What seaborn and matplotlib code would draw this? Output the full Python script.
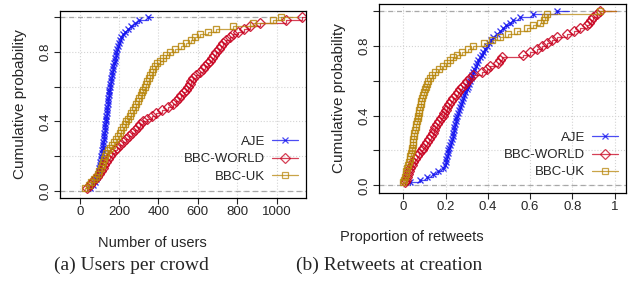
import numpy as np
import pandas as pd
import seaborn as sns
import matplotlib.pyplot as plt
from matplotlib.lines import Line2D

sns.set_style("ticks")
plt.rcParams['font.family'] = ['Liberation Sans', 'DejaVu Sans']

series = ['AJE', 'BBC-WORLD', 'BBC-UK']
colores = {'AJE': '#1010F0', 'BBC-WORLD': '#C8001E', 'BBC-UK': '#B8860B'}
marcas = {'AJE': 'x', 'BBC-WORLD': 'D', 'BBC-UK': 's'}
tam = {'AJE': 5, 'BBC-WORLD': 4.8, 'BBC-UK': 4.8}

# (a) usuarios por crowd
users_aje = [50, 68, 80, 85, 89, 93, 96, 99, 102, 104, 107, 110, 112, 114, 116, 118, 120, 122,
             124, 125, 127, 129, 130, 132, 134, 135, 137, 139, 140, 142, 144, 145, 147, 149, 151, 153,
             155, 158, 160, 162, 165, 168, 171, 174, 177, 180, 183, 186, 190, 195, 200, 206, 212, 220,
             232, 247, 263, 282, 300, 347]
users_world = [35, 50, 65, 78, 90, 100, 108, 117, 125, 134, 143, 153, 165, 177, 190, 205, 220, 237,
               250, 265, 280, 295, 308, 322, 343, 365, 390, 420, 450, 475, 490, 505, 517, 530, 540, 551,
               560, 568, 576, 593, 610, 627, 638, 650, 661, 672, 684, 695, 706, 718, 729, 745, 762, 780,
               805, 835, 864, 915, 1050, 1127]
users_uk = [25, 45, 60, 72, 83, 93, 100, 106, 112, 117, 122, 127, 136, 146, 156, 166, 176, 186,
            195, 204, 212, 220, 229, 237, 246, 254, 263, 271, 280, 288, 295, 302, 309, 316, 323, 330,
            337, 344, 352, 359, 366, 373, 384, 395, 407, 423, 440, 458, 485, 513, 542, 565, 588, 610,
            650, 695, 780, 881, 983, 1025]

# (b) proporcion de retweets
rt_aje = [0.03, 0.08, 0.11, 0.14, 0.165, 0.19, 0.195, 0.2, 0.204, 0.207, 0.21, 0.213, 0.217, 0.221,
          0.225, 0.229, 0.233, 0.237, 0.24, 0.242, 0.245, 0.247, 0.25, 0.252, 0.257, 0.262, 0.267,
          0.273, 0.278, 0.284, 0.289, 0.294, 0.3, 0.305, 0.31, 0.315, 0.32, 0.326, 0.331, 0.336,
          0.342, 0.347, 0.355, 0.363, 0.37, 0.378, 0.386, 0.394, 0.405, 0.415, 0.426, 0.442, 0.457,
          0.473, 0.488, 0.504, 0.52, 0.55, 0.615, 0.726]
rt_world = [0.01, 0.015, 0.019, 0.024, 0.028, 0.032, 0.04, 0.047, 0.055, 0.065, 0.076, 0.087, 0.095,
            0.103, 0.11, 0.12, 0.131, 0.142, 0.147, 0.152, 0.158, 0.168, 0.178, 0.189, 0.194, 0.2,
            0.205, 0.216, 0.226, 0.237, 0.247, 0.258, 0.268, 0.279, 0.29, 0.3, 0.315, 0.331, 0.37,
            0.394, 0.41, 0.45, 0.458, 0.465, 0.567, 0.6, 0.63, 0.655, 0.678, 0.705, 0.726, 0.773,
            0.805, 0.836, 0.868, 0.88, 0.89, 0.899, 0.915, 0.93]
rt_uk = [0.0, 0.004, 0.008, 0.012, 0.015, 0.019, 0.023, 0.027, 0.03, 0.034, 0.037, 0.04, 0.042, 0.044,
         0.046, 0.048, 0.05, 0.052, 0.055, 0.058, 0.062, 0.065, 0.068, 0.071, 0.074, 0.076, 0.079,
         0.082, 0.084, 0.087, 0.091, 0.096, 0.101, 0.107, 0.112, 0.118, 0.127, 0.138, 0.15, 0.167,
         0.186, 0.205, 0.22, 0.236, 0.252, 0.278, 0.305, 0.331, 0.38, 0.418, 0.457, 0.497, 0.536,
         0.584, 0.615, 0.647, 0.667, 0.672, 0.678, 0.93]

datos_a = {'AJE': users_aje, 'BBC-WORLD': users_world, 'BBC-UK': users_uk}
datos_b = {'AJE': rt_aje, 'BBC-WORLD': rt_world, 'BBC-UK': rt_uk}

fig = plt.figure(figsize=(6.31, 2.88), dpi=100)
ax1 = fig.add_axes([0.0951, 0.3125, 0.3899, 0.6493])
ax2 = fig.add_axes([0.6006, 0.3299, 0.3914, 0.65625])


def panel(ax, datos, xlim, ylim, xticks, xticklabels, ley_y):
    ax.set_xlim(xlim)
    ax.set_ylim(ylim)
    ax.set_xticks(xticks)
    ax.set_xticklabels(xticklabels)
    ax.set_yticks([0, 0.2, 0.4, 0.6, 0.8, 1.0])
    ax.set_yticklabels(['0.0', '', '0.4', '', '0.8', ''], rotation=90, va='center')
    ax.grid(True, linestyle=':', color='#d4d4d4', lw=0.8)
    ax.axhline(0, ls='--', color='#a8a8a8', lw=0.9, dashes=(4, 3))
    ax.axhline(1, ls='--', color='#a8a8a8', lw=0.9, dashes=(4, 3))
    for s in series:
        vals = np.sort(np.array(datos[s]))
        n = len(vals)
        c = colores[s]
        sns.ecdfplot(x=vals, ax=ax, color=c, lw=0.9, alpha=0.75)
        # el escalon final se prolonga como en R
        dr = max(0.08 * (vals[-1] - vals[0]), np.median(np.diff(vals)))
        ax.plot([vals[-1], vals[-1] + dr], [1, 1], color=c, lw=0.9, alpha=0.75)
        ax.plot(vals, np.arange(1, n + 1) / n, ls='none', marker=marcas[s], ms=tam[s],
                mfc='none', mec=c, mew=0.95, alpha=0.85)
    ax.set_ylabel('Cumulative probability', fontsize=11, labelpad=9)
    ax.tick_params(direction='out', length=4, width=0.8, labelsize=9.5, pad=2)
    for sp in ax.spines.values():
        sp.set_visible(True)
        sp.set_color('black')
        sp.set_linewidth(0.9)
    handles = [Line2D([], [], color=colores[s], lw=0.9, marker=marcas[s], ms=tam[s], mfc='none',
                      mec=colores[s], mew=0.9, alpha=0.75) for s in series]
    ax.legend(handles, series, loc='lower right', bbox_to_anchor=(1.0, ley_y), frameon=False,
              markerfirst=False, fontsize=9.5, handlelength=2.0, handletextpad=0.5,
              labelspacing=0.38, borderaxespad=0.2)


panel(ax1, datos_a, (-100, 1150), (-0.04, 1.035), [0, 200, 400, 600, 800, 1000],
      ['0', '200', '400', '600', '800', '1000'], 0.04)
panel(ax2, datos_b, (-0.115, 1.053), (-0.044, 1.04), [0, 0.2, 0.4, 0.6, 0.8, 1.0],
      ['0', '0.2', '0.4', '0.6', '0.8', '1'], 0.035)

ax1.set_xlabel('Number of users', fontsize=10.5)
ax1.xaxis.set_label_coords(0.374, -0.205)
ax2.set_xlabel('Proportion of retweets', fontsize=10.5)
ax2.xaxis.set_label_coords(0.134, -0.197)

fig.text(0.2084, 0.08, '(a) Users per crowd', family='Liberation Serif', fontsize=14,
         ha='center', va='center')
fig.text(0.6165, 0.08, '(b) Retweets at creation', family='Liberation Serif', fontsize=14,
         ha='center', va='center')

plt.savefig('out.png', dpi=100)
plt.close()
